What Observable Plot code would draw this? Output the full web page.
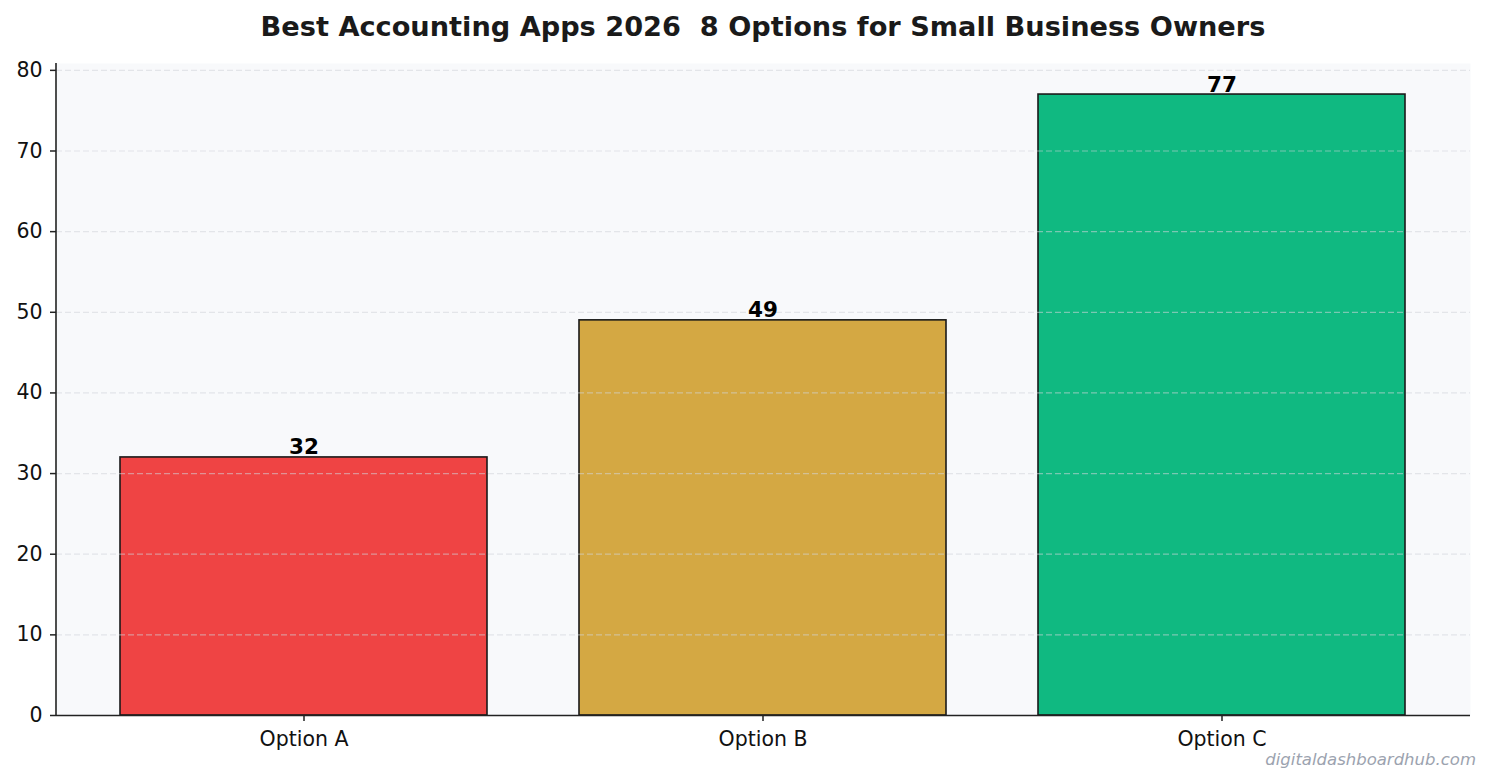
<!DOCTYPE html>
<html>
<head>
<meta charset="utf-8">
<script src="https://cdn.jsdelivr.net/npm/d3@7"></script>
<script src="https://cdn.jsdelivr.net/npm/@observablehq/plot@0.6"></script>
<style>
  html, body { margin: 0; padding: 0; background: #ffffff; }
  body { width: 1492px; height: 783px; position: relative; overflow: hidden; font-family: "DejaVu Sans", sans-serif; }
  #title { height: 50px; line-height: 54px; text-align: center; font-weight: bold; font-size: 27.2px; color: #1a1a1a; padding-left: 34px; }
  #wm { position: absolute; right: 16px; top: 750px; font-style: italic; font-size: 16.5px; color: #9ca3af; }
  svg { display: block; }
</style>
</head>
<body>
<div id="title">Best Accounting Apps 2026&nbsp; 8 Options for Small Business Owners</div>
<div id="chart"></div>
<div id="wm">digitaldashboardhub.com</div>
<script>
const categories = ["Option A", "Option B", "Option C"];
const values = [32, 49, 77];
const colors = ["#ef4444", "#d4a843", "#10b981"];
const yTicks = [0, 10, 20, 30, 40, 50, 60, 70, 80];

const data = categories.map((c, i) => ({category: c, value: values[i], color: colors[i]}));

const chart = Plot.plot({
  width: 1492,
  height: 733,
  marginTop: 13,
  marginBottom: 68,
  marginLeft: 56,
  marginRight: 22,
  style: {fontFamily: "DejaVu Sans, sans-serif", fontSize: "20.5px", color: "#222", background: "transparent"},
  x: {domain: categories, paddingInner: 0.2, paddingOuter: 0.14, label: null},
  y: {domain: [0, 80.85], ticks: yTicks, label: null},
  marks: [
    Plot.frame({fill: "#f8f9fb", stroke: null}),
    Plot.barY(data, {x: "category", y: "value", fill: "color", stroke: "#1a1a1a", strokeWidth: 1.6}),
    Plot.gridY(yTicks, {stroke: "#d1d5db", strokeOpacity: 0.55, strokeWidth: 1.2, strokeDasharray: "6,3"}),
    Plot.axisY({ticks: yTicks, tickSize: 6, tickPadding: 8, fontSize: 20.5, fill: "#111", stroke: "#222", strokeWidth: 1.5}),
    Plot.axisX({tickSize: 6, tickPadding: 10, fontSize: 20.5, fill: "#111", stroke: "#222", strokeWidth: 1.5}),
    Plot.ruleY([0], {stroke: "#222", strokeWidth: 1.6}),
    Plot.text(data, {x: "category", y: "value", text: d => String(d.value), lineAnchor: "bottom", dy: -3, fontWeight: "bold", fontSize: 21.5, fill: "#000"})
  ]
});

// left spine
const svg = d3.select(chart);
svg.append("line")
  .attr("x1", 56).attr("x2", 56)
  .attr("y1", 13).attr("y2", 733 - 68)
  .attr("stroke", "#222").attr("stroke-width", 1.6);

document.getElementById("chart").appendChild(chart);
</script>
</body>
</html>
